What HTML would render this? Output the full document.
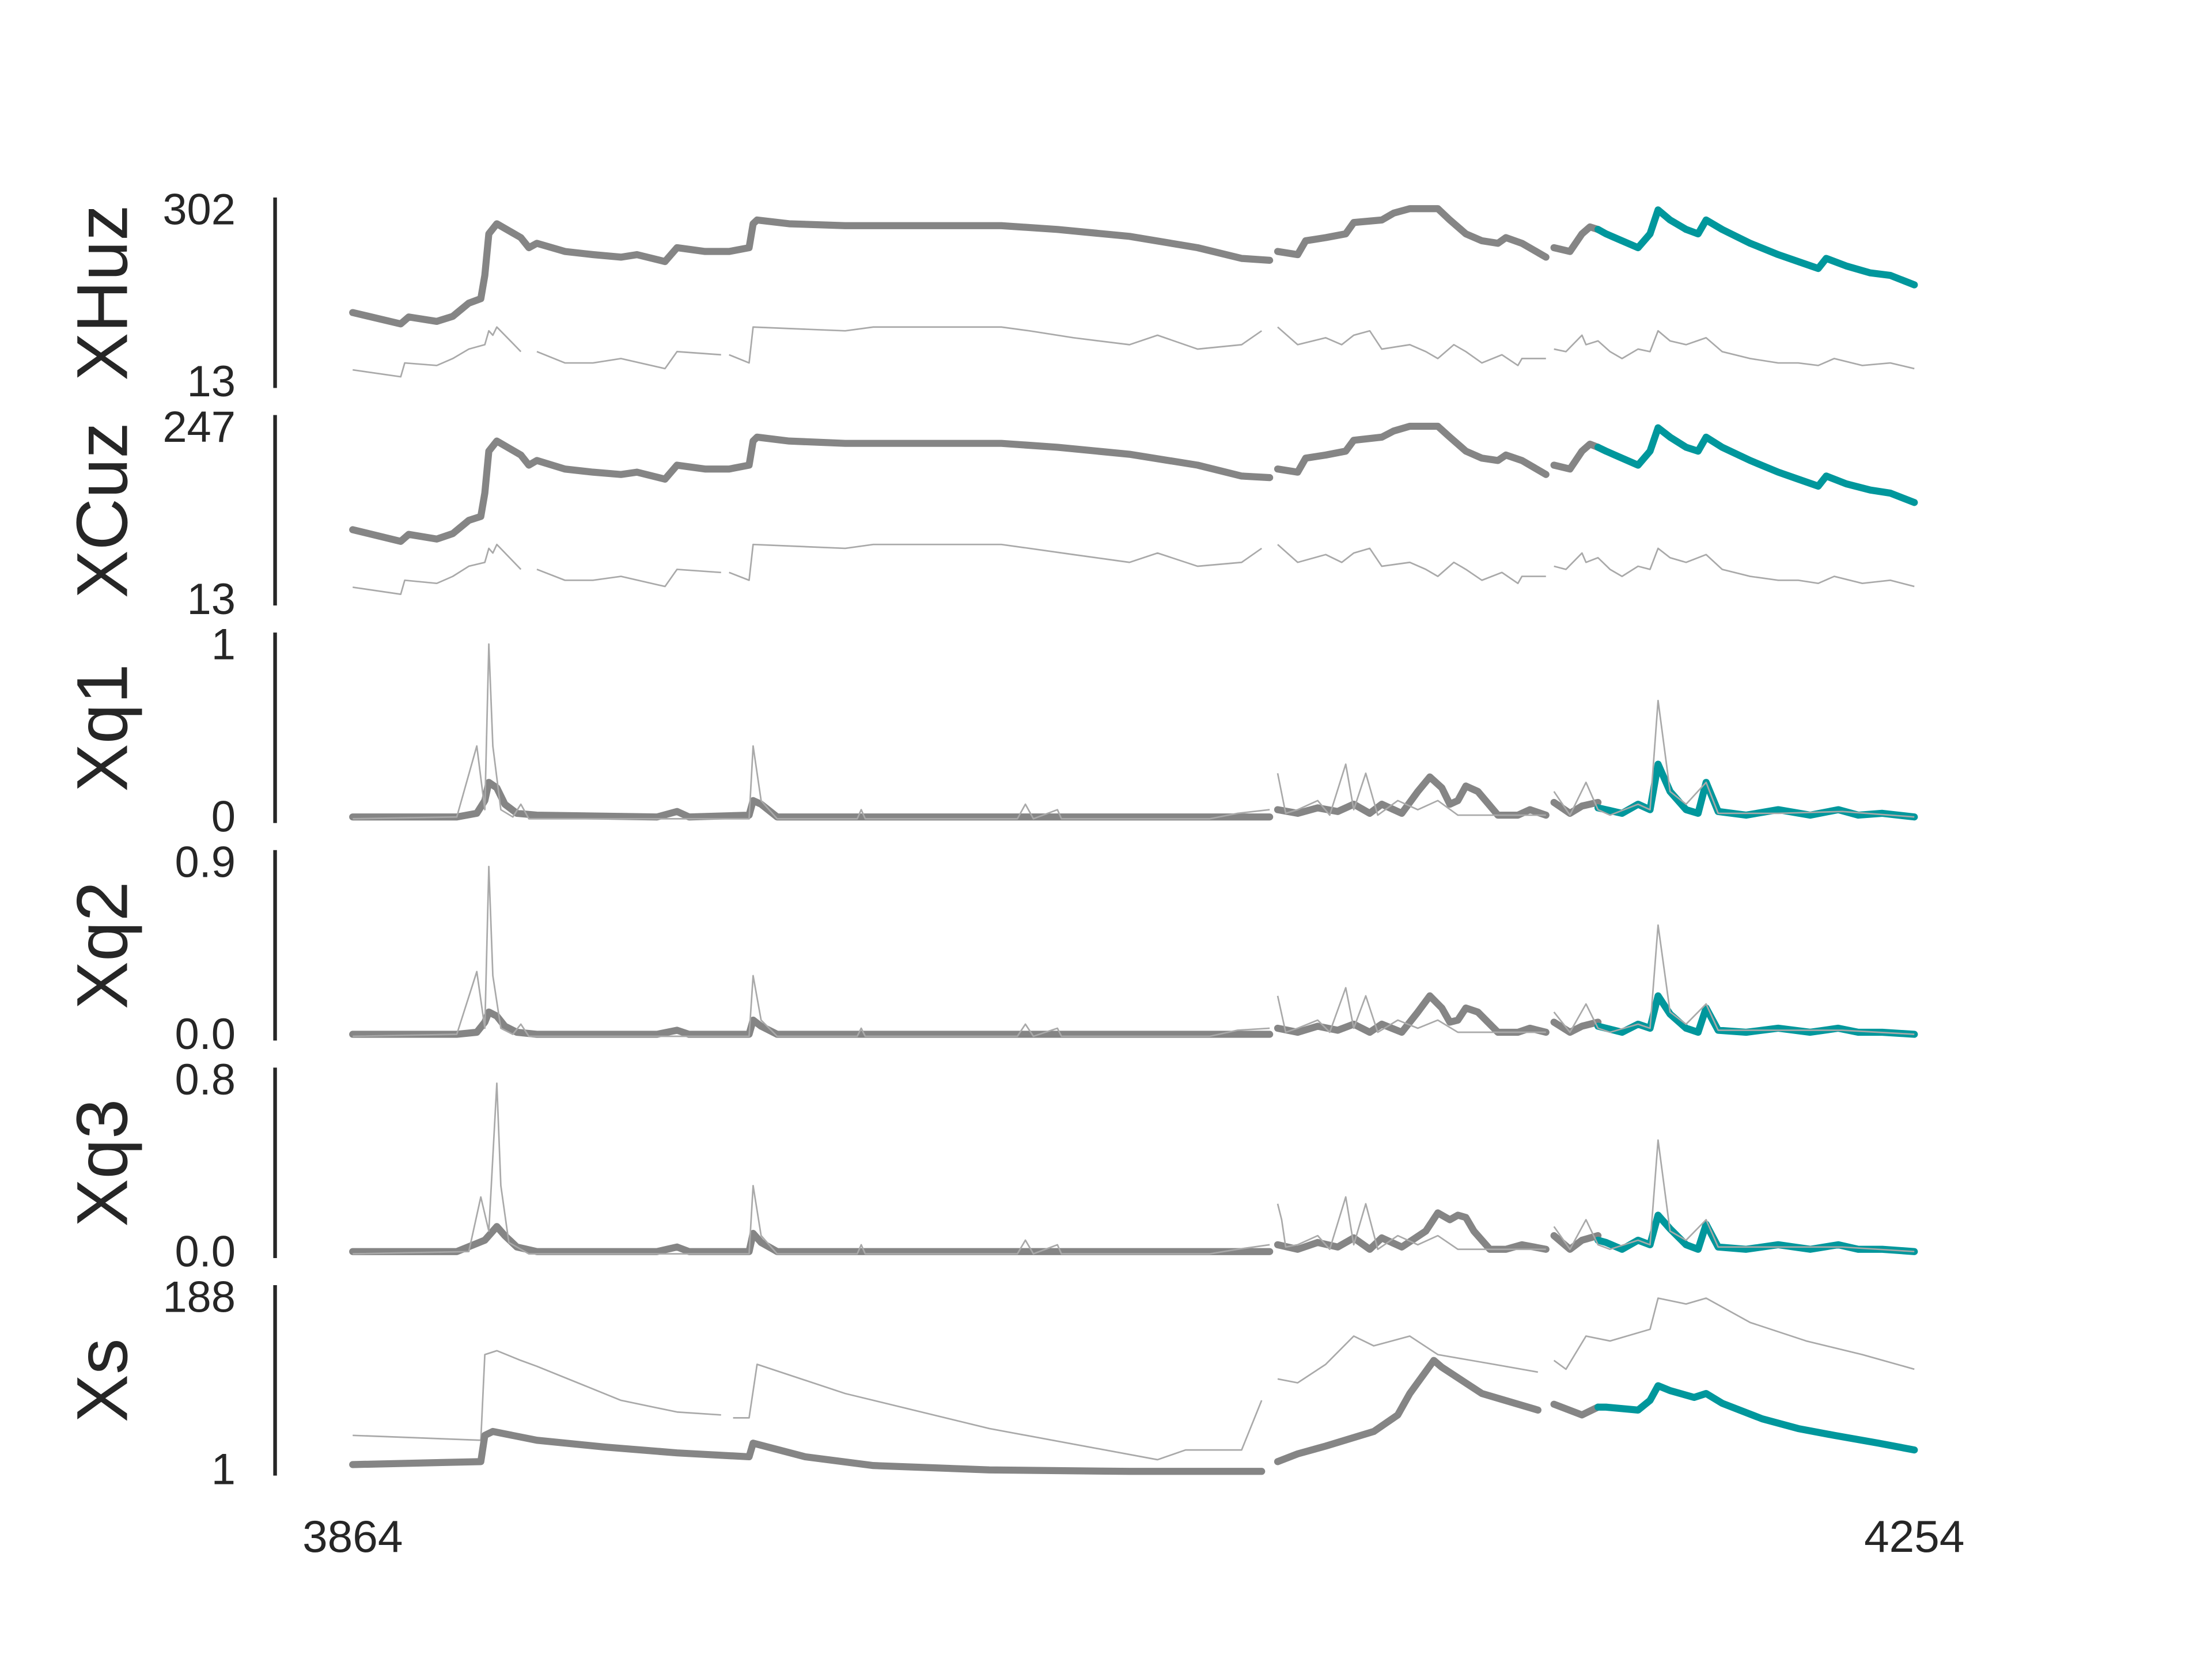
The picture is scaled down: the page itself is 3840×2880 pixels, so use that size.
<!DOCTYPE html>
<html><head><meta charset="utf-8">
<style>
html,body{margin:0;padding:0;background:#fff;}
svg{display:block;}
text{font-family:"Liberation Sans",sans-serif;fill:#262626;}
</style></head>
<body>
<svg id="chart" width="3840" height="2880" viewBox="0 0 1568 1176" xmlns="http://www.w3.org/2000/svg">
<g id="panels"></g>
<text x="250" y="1100" font-size="32" text-anchor="middle">3864</text>
<text x="1357" y="1100" font-size="32" text-anchor="middle">4254</text>
</svg>
<script>
const panelNames = ["XHuz","XCuz","Xq1","Xq2","Xq3","Xs"];
const tickTop = ["302","247","1","0.9","0.8","188"];
const tickBot = ["13","13","0","0.0","0.0","1"];
const domMin = [13,13,0,0,0,1];
const domMax = [302,247,1,0.9,0.8,188];

// XHuz
const huzThickX = [3864,3876,3878,3885,3889,3893,3896,3897,3898,3900,3906,3908,3910,3917,3924,3931,3935,3942,3945,3952,3958,3963,3964,3965,3973,3987,4026,4040,4058,4075,4086,4093,null,4095,4100,4102,4107,4112,4114,4121,4124,4128,4135,4138,4142,4146,4150,4152,4156,4162,null,4164,4168,4171,4173,4175];
const huzThickY = [126,108,119,112,120,141,148,185,251,267,245,229,236,223,218,214,218,207,229,223,223,229,267,273,267,264,264,258,247,229,212,209,null,223,218,240,245,251,269,273,284,291,291,273,251,240,236,245,236,214,null,229,223,251,262,258];
const huzTealX = [4175,4177,4181,4185,4188,4190,4193,4197,4200,4202,4206,4213,4220,4225,4230,4232,4237,4243,4248,4254];
const huzTealY = [258,251,240,229,251,289,273,258,251,273,258,236,218,207,196,212,200,189,185,170];
const huzThinX = [3864,3876,3877,3885,3889,3893,3897,3898,3899,3900,3906,null,3910,3917,3924,3931,3942,3945,3956,null,3958,3963,3964,3987,3994,4026,4033,4044,4058,4065,4075,4086,4091,null,4095,4100,4107,4111,4114,4118,4121,4128,4132,4135,4139,4142,4146,4151,4155,4156,4162,null,4164,4167,4171,4172,4175,4178,4181,4185,4188,4190,4193,4197,4202,4206,4213,4220,4225,4230,4234,4241,4248,4254];
const huzThinY = [35,24,46,42,53,68,75,97,90,103,64,null,64,46,46,53,37,64,59,null,59,46,103,97,103,103,97,86,75,90,68,75,97,null,103,75,86,75,90,97,68,75,64,53,75,64,46,59,42,53,53,null,68,64,90,75,81,64,53,68,64,97,81,75,86,64,53,46,46,42,53,42,46,37];

// XCuz
const cuzThickX = huzThickX.slice();
const cuzThickY = [105,90,99,93,100,117,122,152,206,219,201,188,194,183,179,176,179,170,188,183,183,188,219,224,219,216,216,211,202,188,174,172,null,183,179,197,201,206,220,224,232,238,238,224,206,197,194,201,194,176,null,188,183,206,215,211];
const cuzTealX = huzTealX.slice();
const cuzTealY = [211,206,197,188,206,236,224,211,206,224,211,194,179,170,161,174,164,156,152,140];
const cuzThinX = huzThinX.slice();
const cuzThinY = [31,22,40,36,45,58,63,81,75,86,54,null,54,40,40,45,32,54,50,null,50,40,86,81,86,86,81,73,63,75,58,63,81,null,86,63,73,63,75,81,58,63,54,45,63,54,40,50,36,45,45,null,58,54,75,63,69,54,45,58,54,81,69,63,73,54,45,40,40,36,45,36,40,32];

// Xq1
const q1ThickX = [3864,3890,3895,3897,3898,3900,3902,3905,3910,3940,3945,3948,3963,3964,3966,3970,4093,null,4095,4100,4105,4110,4114,4118,4121,4126,4130,4133,4136,4138,4140,4142,4145,4150,4155,4158,4162,null,4164,4168,4171,4175];
const q1ThickY = [0.01,0.01,0.03,0.1,0.2,0.17,0.08,0.03,0.02,0.01,0.04,0.01,0.02,0.1,0.08,0.01,0.01,null,0.05,0.03,0.06,0.04,0.08,0.03,0.08,0.03,0.15,0.23,0.17,0.08,0.1,0.18,0.15,0.02,0.02,0.05,0.02,null,0.09,0.03,0.07,0.09];
const q1TealX = [4175,4177,4181,4185,4188,4190,4193,4197,4200,4202,4205,4212,4220,4228,4235,4240,4246,4254];
const q1TealY = [0.06,0.05,0.03,0.08,0.05,0.3,0.15,0.05,0.03,0.2,0.04,0.02,0.05,0.02,0.05,0.02,0.03,0.01];
const q1ThinX = [3864,3890,3895,3897,3898,3899,3901,3904,3906,3908,3963,3964,3966,3970,3990,3991,3992,4030,4032,4034,4040,4041,4078,4085,4093,null,4095,4097,4100,4105,4108,4112,4114,4117,4120,4125,4130,4135,4140,4150,4162,null,4164,4168,4172,4175,4178,4185,4188,4190,4193,4197,4202,4205,4220,4236,4254];
const q1ThinY = [0,0.01,0.4,0.05,0.96,0.4,0.05,0.01,0.08,0,0,0.4,0.1,0,0,0.05,0,0,0.08,0,0.05,0,0,0.03,0.05,null,0.25,0.03,0.05,0.1,0.02,0.3,0.05,0.25,0.02,0.1,0.05,0.1,0.02,0.02,0.02,null,0.15,0.02,0.2,0.05,0.02,0.08,0.05,0.65,0.15,0.08,0.2,0.03,0.03,0.04,0.01];

// Xq2
const q2ThickX = q1ThickX.slice();
const q2ThickY = [0.01,0.01,0.02,0.07,0.12,0.1,0.05,0.02,0.01,0.01,0.03,0.01,0.01,0.08,0.05,0.01,0.01,null,0.04,0.02,0.05,0.03,0.06,0.02,0.06,0.02,0.12,0.2,0.14,0.07,0.08,0.14,0.12,0.02,0.02,0.04,0.02,null,0.07,0.02,0.05,0.07];
const q2TealX = q1TealX.slice();
const q2TealY = [0.05,0.04,0.02,0.06,0.04,0.2,0.11,0.04,0.02,0.14,0.03,0.02,0.04,0.02,0.04,0.02,0.02,0.01];
const q2ThinX = q1ThinX.slice();
const q2ThinY = [0,0.01,0.32,0.04,0.84,0.3,0.04,0.01,0.06,0,0,0.3,0.08,0,0,0.04,0,0,0.06,0,0.04,0,0,0.03,0.04,null,0.2,0.02,0.04,0.08,0.02,0.24,0.04,0.2,0.02,0.08,0.04,0.08,0.02,0.02,0.02,null,0.12,0.02,0.16,0.04,0.02,0.06,0.04,0.55,0.12,0.06,0.16,0.03,0.03,0.03,0.01];

// Xq3
const q3ThickX = [3864,3890,3897,3899,3900,3902,3905,3910,3940,3945,3948,3963,3964,3966,3970,4093,null,4095,4100,4105,4110,4114,4118,4121,4126,4132,4135,4138,4140,4142,4144,4148,4152,4156,4162,null,4164,4168,4171,4175];
const q3ThickY = [0.01,0.01,0.06,0.1,0.12,0.08,0.03,0.01,0.01,0.03,0.01,0.01,0.09,0.05,0.01,0.01,null,0.04,0.02,0.05,0.03,0.07,0.02,0.07,0.03,0.1,0.18,0.15,0.17,0.16,0.1,0.02,0.02,0.04,0.02,null,0.08,0.02,0.06,0.08];
const q3TealX = q1TealX.slice();
const q3TealY = [0.06,0.05,0.02,0.06,0.04,0.17,0.11,0.04,0.02,0.13,0.03,0.02,0.04,0.02,0.04,0.02,0.02,0.01];
const q3ThinX = [3864,3893,3896,3898,3900,3901,3903,3906,3908,3963,3964,3966,3970,3990,3991,3992,4030,4032,4034,4040,4041,4078,4085,4093,null,4095,4096,4097,4100,4105,4108,4112,4114,4117,4120,4125,4130,4135,4140,4150,4162,null,4164,4168,4172,4175,4178,4185,4188,4190,4193,4197,4202,4205,4220,4236,4254];
const q3ThinY = [0,0.01,0.25,0.1,0.75,0.3,0.05,0.02,0,0,0.3,0.08,0,0,0.04,0,0,0.06,0,0.04,0,0,0.02,0.04,null,0.22,0.15,0.03,0.04,0.08,0.02,0.25,0.04,0.22,0.02,0.08,0.04,0.08,0.02,0.02,0.02,null,0.12,0.02,0.15,0.04,0.02,0.06,0.04,0.5,0.1,0.06,0.15,0.03,0.03,0.03,0.01];

// Xs
const sThickX = [3864,3896,3897,3899,3910,3927,3945,3963,3964,3977,3994,4023,4058,4091,null,4095,4100,4107,4119,4125,4128,4134,4136,4146,4160,null,4164,4171,4175];
const sThickY = [8,11,38,42,33,26,20,16,30,16,7,2.5,1,1,null,11,19,27,42,59,81,115,108,81,64,null,70,59,67];
const sTealX = [4175,4177,4185,4188,4190,4193,4199,4202,4206,4216,4225,4234,4245,4254];
const sTealY = [67,67,64,74,89,84,77,81,71,55,45,38,30,23];
const sThinX = [3864,3896,3897,3900,3906,3910,3931,3945,3956,null,3959,3963,3965,3987,4023,4065,4072,4086,4091,null,4095,4100,4107,4114,4119,4128,4135,4149,4160,null,4164,4167,4172,4178,4188,4190,4197,4202,4213,4227,4241,4254];
const sThinY = [38,33,121,125,115,109,74,62,59,null,56,56,111,81,45,13,23,23,74,null,96,92,111,140,130,140,121,111,103,null,115,106,140,135,147,179,173,179,154,135,121,106];

const series = [
 [[huzThinX,huzThinY],[huzThickX,huzThickY],[huzTealX,huzTealY]],
 [[cuzThinX,cuzThinY],[cuzThickX,cuzThickY],[cuzTealX,cuzTealY]],
 [[q1ThinX,q1ThinY],[q1ThickX,q1ThickY],[q1TealX,q1TealY]],
 [[q2ThinX,q2ThinY],[q2ThickX,q2ThickY],[q2TealX,q2TealY]],
 [[q3ThinX,q3ThinY],[q3ThickX,q3ThickY],[q3TealX,q3TealY]],
 [[sThinX,sThinY],[sThickX,sThickY],[sTealX,sTealY]]
];
const NS="http://www.w3.org/2000/svg";
const root=document.getElementById('panels');
const X0=3864,X1=4254,PX0=250,PX1=1357;
function xScale(v){return PX0+(v-X0)/(X1-X0)*(PX1-PX0);}
const panelTop0=140, panelStep=154.2, panelH=135;
function mk(tag,attrs){const e=document.createElementNS(NS,tag);for(const k in attrs)e.setAttribute(k,attrs[k]);return e;}
function pathD(xs,ys,yS){let d="",pen=false;for(let i=0;i<xs.length;i++){if(xs[i]===null||ys[i]===null){pen=false;continue;}d+=(pen?"L":"M")+xScale(xs[i]).toFixed(2)+","+yS(ys[i]).toFixed(2);pen=true;}return d;}
panelNames.forEach((name,p)=>{
  const top=panelTop0+p*panelStep, bot=top+panelH;
  const yTop=top+3, yBot=bot-3;
  const yS=v=>yBot-(v-domMin[p])/(domMax[p]-domMin[p])*(yBot-yTop);
  const g=mk('g',{});
  
  
  root.appendChild(g);
  const spine=mk('line',{x1:195,x2:195,y1:top,y2:bot,stroke:'#262626','stroke-width':2.6});
  
  
  g.appendChild(spine);
  const t1=mk('text',{x:167,y:top+19,'font-size':31,'text-anchor':'end'});
  t1.textContent=tickTop[p];
  
  
  g.appendChild(t1);
  const t2=mk('text',{x:167,y:bot+6,'font-size':31,'text-anchor':'end'});
  t2.textContent=tickBot[p];
  
  
  g.appendChild(t2);
  const cy=top+panelH/2;
  const lab=mk('text',{x:90,y:cy,'font-size':51,'text-anchor':'middle',transform:'rotate(-90 90 '+cy+')'});
  lab.textContent=name;
  
  
  g.appendChild(lab);
  const s=series[p];
  const thick=mk('path',{d:pathD(s[1][0],s[1][1],yS),fill:'none',stroke:'#858585','stroke-width':5,'stroke-linejoin':'round','stroke-linecap':'round'});
  
  
  g.appendChild(thick);
  const teal=mk('path',{d:pathD(s[2][0],s[2][1],yS),fill:'none',stroke:'#00979c','stroke-width':5,'stroke-linejoin':'round','stroke-linecap':'round'});
  
  
  g.appendChild(teal);
  const thin=mk('path',{d:pathD(s[0][0],s[0][1],yS),fill:'none',stroke:'#a9a9a9','stroke-width':1.1,'stroke-linejoin':'round'});
  
  
  if(p<2||p===5) g.insertBefore(thin,thick); else g.appendChild(thin);
});
</script>
</body></html>
